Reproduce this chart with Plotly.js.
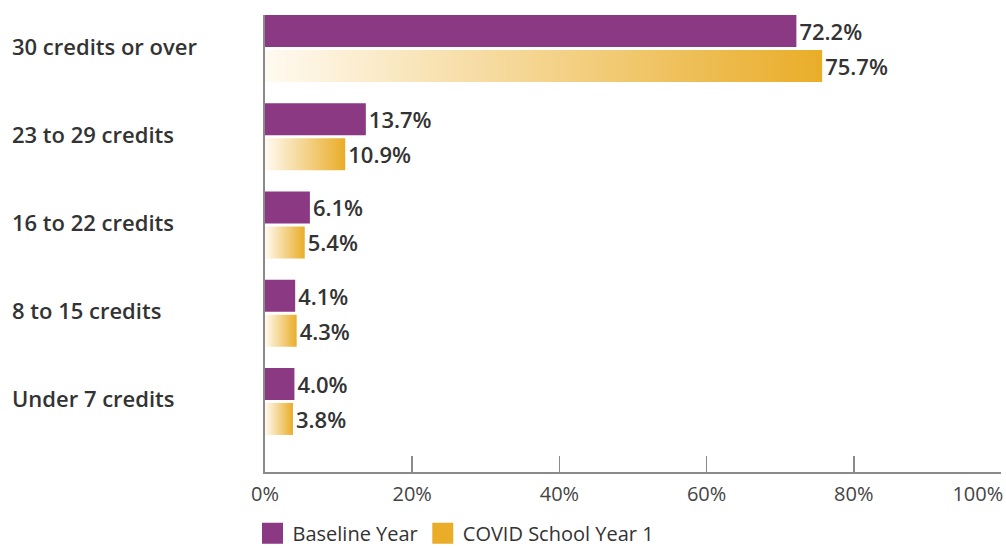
<!DOCTYPE html>
<html>
<head>
<meta charset="utf-8">
<script src="https://cdn.plot.ly/plotly-3.0.1.min.js"></script>
<style>html,body{margin:0;padding:0;background:#fff;}#chart{width:1006px;height:548px;}</style>
</head>
<body>
<div id="chart"></div>
<script>
const categories = ['30 credits or over', '23 to 29 credits', '16 to 22 credits', '8 to 15 credits', 'Under 7 credits'];
const baseline = [72.2, 13.7, 6.1, 4.1, 4.0];
const covid = [75.7, 10.9, 5.4, 4.3, 3.8];
const seriesNames = ['Baseline Year', 'COVID School Year 1'];
const xTickVals = [0, 20, 40, 60, 80, 100];
const xTickText = ['0%', '20%', '40%', '60%', '80%', '100%'];

const PURPLE = '#8C3984';
const GOLD = '#E9AD28';
const GOLD_LIGHT = '#FFFAF1';
const FONT = 'Open Sans, Noto Sans, sans-serif';
const TEXT_DARK = '#333333';
const AXIS_GRAY = '#8a8a8a';

const BAR_W = 0.363;
const GAP = 0.017;
const pos = categories.map((_, i) => i);
const fmt = v => v.toFixed(1) + '%';

const traces = [];

// Baseline bars (solid purple)
traces.push({
  type: 'bar', orientation: 'h',
  x: baseline, y: pos,
  width: BAR_W, offset: -(BAR_W + GAP),
  marker: {color: PURPLE, line: {width: 0}},
  text: baseline.map(fmt), textposition: 'outside',
  textfont: {family: FONT, size: 22, color: TEXT_DARK, weight: 600},
  constraintext: 'none', cliponaxis: false,
  showlegend: false, hoverinfo: 'skip'
});

// COVID bars (transparent carrier for labels; gradient drawn on top)
traces.push({
  type: 'bar', orientation: 'h',
  x: covid, y: pos,
  width: BAR_W, offset: GAP,
  marker: {color: 'rgba(0,0,0,0)', line: {width: 0}},
  text: covid.map(fmt), textposition: 'outside',
  textfont: {family: FONT, size: 22, color: TEXT_DARK, weight: 600},
  constraintext: 'none', cliponaxis: false,
  showlegend: false, hoverinfo: 'skip'
});

// Gradient gold bars: one filled polygon per category, built from the data values
covid.forEach((v, i) => {
  const y0 = pos[i] + GAP, y1 = pos[i] + GAP + BAR_W;
  traces.push({
    type: 'scatter', mode: 'lines',
    x: [0, v, v, 0, 0], y: [y0, y0, y1, y1, y0],
    fill: 'toself',
    fillgradient: {type: 'horizontal', colorscale: [[0, GOLD_LIGHT], [1, GOLD]]},
    line: {width: 0, color: 'rgba(0,0,0,0)'},
    showlegend: false, hoverinfo: 'skip'
  });
});

// Legend entries (second one also anchors the overlay axis for the last tick)
[[seriesNames[0], PURPLE, 'x'], [seriesNames[1], GOLD, 'x2']].forEach(([name, color, xa]) => {
  traces.push({
    type: 'scatter', mode: 'markers', x: [null], y: [null], name: name, xaxis: xa,
    marker: {symbol: 'square', size: 16, color: color, line: {width: 5, color: color}},
    showlegend: true, hoverinfo: 'skip'
  });
});

const annotations = categories.map((c, i) => ({
  xref: 'paper', yref: 'y', x: -255 / 736, y: pos[i], yshift: 3,
  xanchor: 'left', yanchor: 'middle', showarrow: false,
  text: c, font: {family: FONT, size: 22, color: TEXT_DARK, weight: 600}
}));

const nT = xTickVals.length;
const tickFont = {family: FONT, size: 20, color: '#444444'};

const layout = {
  width: 1006, height: 548,
  margin: {l: 265, r: 5, t: 15, b: 76, pad: 0},
  paper_bgcolor: '#ffffff', plot_bgcolor: '#ffffff',
  barmode: 'overlay',
  font: {family: FONT, color: '#444444'},
  xaxis: {
    range: [0, 100], fixedrange: true,
    showline: true, linecolor: AXIS_GRAY, linewidth: 2,
    showgrid: false, zeroline: false,
    ticks: 'inside', ticklen: 16, tickwidth: 1.5, tickcolor: AXIS_GRAY,
    tickvals: xTickVals.slice(0, nT - 1), ticktext: xTickText.slice(0, nT - 1),
    ticklabelstandoff: 3,
    tickfont: tickFont
  },
  xaxis2: {
    range: [0, 100], fixedrange: true, overlaying: 'x', anchor: 'y', side: 'bottom',
    showline: false, showgrid: false, zeroline: false,
    ticks: 'inside', ticklen: 16, tickwidth: 1.5, tickcolor: AXIS_GRAY,
    tickvals: xTickVals.slice(nT - 1), ticktext: xTickText.slice(nT - 1),
    ticklabelposition: 'outside left', ticklabelstandoff: 8, ticklabelshift: 3,
    tickfont: tickFont
  },
  yaxis: {
    range: [4.80, -0.38], fixedrange: true,
    showline: true, linecolor: AXIS_GRAY, linewidth: 2,
    showgrid: false, zeroline: false,
    showticklabels: false, ticks: ''
  },
  showlegend: true,
  legend: {
    orientation: 'h', xref: 'paper', x: -0.017, xanchor: 'left',
    yref: 'container', y: 0.027, yanchor: 'middle',
    font: {family: FONT, size: 20, color: TEXT_DARK},
    bgcolor: 'rgba(0,0,0,0)', itemclick: false, itemdoubleclick: false
  },
  annotations: annotations
};

Plotly.newPlot('chart', traces, layout, {displayModeBar: false, staticPlot: true});
</script>
</body>
</html>
